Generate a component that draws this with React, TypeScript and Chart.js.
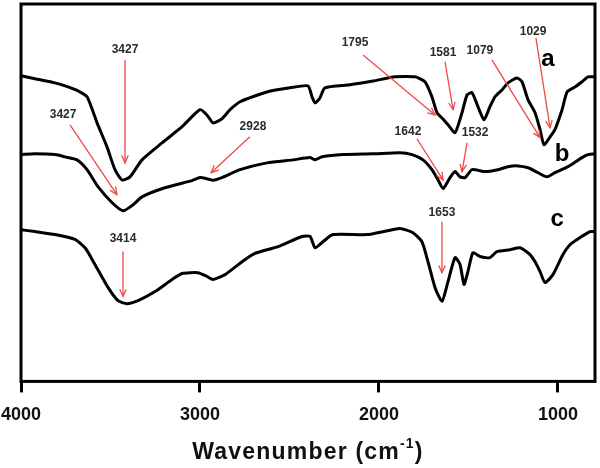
import React, { useEffect, useRef } from "react";
import { Chart, registerables } from "chart.js";

Chart.register(...registerables);

// Wavenumber (cm-1) and transmittance (arbitrary %) for each spectrum
const waveA = [4000,3922,3810,3754,3682,3631,3575,3520,3475,3436,3391,3324,3212,3100,3000,2961,2927,2877,2832,2776,2626,2497,2397,2374,2357,2330,2302,2162,2033,1910,1799,1743,1704,1676,1648,1614,1575,1536,1508,1480,1447,1413,1380,1352,1313,1279,1229,1201,1167,1128,1100,1078,1044,1017,977,949,905,866,832,793];
const transA = [81.0,80.2,79.1,78.3,77.0,75.4,68.5,62.2,56.1,53.4,54.2,58.7,63.2,67.5,72.0,70.6,68.5,69.6,72.0,74.1,76.7,77.8,78.3,75.4,73.8,75.1,77.8,78.6,79.6,80.7,80.7,79.4,75.4,71.2,69.8,68.0,65.9,71.2,75.9,76.5,72.8,69.3,72.8,75.4,77.2,79.1,80.4,79.4,74.6,71.2,66.7,62.7,64.8,66.7,72.0,76.7,78.0,79.4,80.7,80.7];

const waveB = [4000,3922,3810,3754,3687,3631,3570,3492,3430,3374,3324,3196,3045,3000,2961,2927,2877,2776,2626,2480,2385,2357,2318,2201,2033,1883,1815,1754,1704,1670,1642,1603,1575,1547,1519,1480,1408,1335,1279,1223,1167,1112,1061,1017,944,866,832,793];
const transB = [60.1,60.3,60.1,59.5,58.7,56.1,51.6,47.4,45.2,46.8,48.9,51.3,53.2,54.0,53.7,53.3,54.0,56.1,57.9,58.7,59.3,58.7,59.5,60.1,60.3,60.6,60.1,58.7,56.1,53.4,51.1,54.0,55.6,54.2,54.0,56.1,55.6,56.1,56.9,57.1,56.6,55.3,54.2,55.3,56.9,59.3,60.1,60.3];

const waveC = [4000,3922,3810,3698,3642,3587,3514,3458,3408,3346,3251,3156,3100,3011,2961,2927,2860,2765,2693,2564,2430,2385,2357,2313,2257,2067,1955,1883,1810,1760,1726,1687,1648,1614,1575,1547,1525,1503,1475,1436,1380,1341,1268,1212,1156,1128,1100,1072,1028,972,933,877,821,793];
const transC = [40.2,39.7,38.9,37.6,35.4,31.0,24.9,21.4,20.6,21.4,23.8,27.0,28.6,28.8,27.8,27.0,28.3,31.7,33.9,35.7,38.4,38.4,35.4,37.0,38.9,38.9,39.9,40.5,39.4,37.0,31.7,24.9,21.2,26.5,32.8,31.0,25.7,29.1,34.1,33.1,32.8,34.4,34.9,35.4,33.6,31.7,29.1,26.2,28.3,33.6,36.2,38.1,39.7,39.7];

const xTicks = [4000, 3000, 2000, 1000];
const xMin = 793;
const xMax = 4000;

// Peak annotations (data units): label position, arrow start, arrow tip
const peakLabels = ["3427", "3427", "2928", "1795", "1581", "1079", "1029", "1642", "1532", "1653", "3414"];
const labelWn = [3419, 3765, 2704, 2134, 1642, 1436, 1139, 1838, 1463, 1648, 3430];
const labelT = [87.8, 70.6, 67.5, 89.7, 87.0, 87.6, 92.6, 66.1, 65.9, 44.7, 37.8];
const fromWn = [3419, 3726, 2721, 2089, 1631, 1369, 1123, 1788, 1508, 1648, 3430];
const fromT = [85.2, 68.0, 64.8, 86.5, 84.7, 85.2, 91.0, 64.3, 63.2, 42.3, 34.4];
const tipWn = [3419, 3464, 2938, 1687, 1586, 1100, 1044, 1642, 1536, 1648, 3430];
const tipT = [57.9, 49.5, 55.3, 70.6, 72.0, 64.6, 67.2, 53.4, 55.6, 28.8, 22.5];

const curveNames = ["a", "b", "c"];
const curveNameWn = [1056, 977, 1005];
const curveNameT = [85.2, 60.1, 42.9];

const toPoints = (xs: number[], ys: number[]) => xs.map((x, i) => ({ x, y: ys[i] }));

const overlayPlugin = {
  id: "overlay",
  afterDatasetsDraw(chart: any) {
    const { ctx, chartArea: ca, scales } = chart;
    const xs = scales.x;
    const ys = scales.y;
    ctx.save();

    // frame
    ctx.strokeStyle = "#000";
    ctx.lineWidth = 3;
    ctx.strokeRect(ca.left, ca.top, ca.right - ca.left, ca.bottom - ca.top);

    // arrows
    ctx.strokeStyle = "#ef4848";
    ctx.lineWidth = 1.3;
    for (let i = 0; i < peakLabels.length; i++) {
      const x1 = xs.getPixelForValue(fromWn[i]);
      const y1 = ys.getPixelForValue(fromT[i]);
      const x2 = xs.getPixelForValue(tipWn[i]);
      const y2 = ys.getPixelForValue(tipT[i]);
      ctx.beginPath();
      ctx.moveTo(x1, y1);
      ctx.lineTo(x2, y2);
      ctx.stroke();
      const ang = Math.atan2(y2 - y1, x2 - x1);
      const len = 8;
      const spread = 0.42;
      ctx.beginPath();
      ctx.moveTo(x2 - len * Math.cos(ang - spread), y2 - len * Math.sin(ang - spread));
      ctx.lineTo(x2, y2);
      ctx.lineTo(x2 - len * Math.cos(ang + spread), y2 - len * Math.sin(ang + spread));
      ctx.stroke();
    }

    // peak labels
    ctx.fillStyle = "#2a2a2a";
    ctx.font = "bold 12px 'Liberation Sans', Arial, sans-serif";
    ctx.textAlign = "center";
    ctx.textBaseline = "middle";
    for (let i = 0; i < peakLabels.length; i++) {
      ctx.fillText(peakLabels[i], xs.getPixelForValue(labelWn[i]), ys.getPixelForValue(labelT[i]));
    }

    // curve names
    ctx.fillStyle = "#000";
    ctx.font = "bold 24px 'Liberation Sans', Arial, sans-serif";
    for (let i = 0; i < curveNames.length; i++) {
      ctx.fillText(curveNames[i], xs.getPixelForValue(curveNameWn[i]), ys.getPixelForValue(curveNameT[i]));
    }

    // axis title with superscript
    const cx = (ca.left + ca.right) / 2;
    const cy = ca.bottom + 71;
    const big = "bold 23px 'Liberation Sans', Arial, sans-serif";
    const small = "bold 14px 'Liberation Sans', Arial, sans-serif";
    const part1 = "Wavenumber (cm";
    const sup = "-1";
    const part3 = ")";
    (ctx as any).letterSpacing = "1.2px";
    ctx.font = big;
    const w1 = ctx.measureText(part1).width;
    const w3 = ctx.measureText(part3).width;
    ctx.font = small;
    const w2 = ctx.measureText(sup).width;
    const total = w1 + w2 + w3;
    let x = cx - total / 2;
    ctx.textAlign = "left";
    ctx.textBaseline = "middle";
    ctx.fillStyle = "#111";
    ctx.font = big;
    ctx.fillText(part1, x, cy);
    x += w1;
    ctx.font = small;
    ctx.fillText(sup, x, cy - 8);
    x += w2;
    ctx.font = big;
    ctx.fillText(part3, x, cy);
    (ctx as any).letterSpacing = "0px";

    ctx.restore();
  },
};

export default function App() {
  const ref = useRef<HTMLCanvasElement | null>(null);

  useEffect(() => {
    document.body.style.margin = "0";
    if (!ref.current) return;
    const lineStyle = {
      borderColor: "#000",
      borderWidth: 3,
      pointRadius: 0,
      tension: 0.2,
      fill: false,
    };
    const chart = new Chart(ref.current, {
      type: "line",
      data: {
        datasets: [
          { label: "a", data: toPoints(waveA, transA), ...lineStyle },
          { label: "b", data: toPoints(waveB, transB), ...lineStyle },
          { label: "c", data: toPoints(waveC, transC), ...lineStyle },
        ],
      },
      options: {
        animation: false,
        responsive: false,
        maintainAspectRatio: false,
        layout: { padding: { left: 21, right: 5, top: 4, bottom: 30 } },
        plugins: { legend: { display: false }, tooltip: { enabled: false } },
        scales: {
          x: {
            type: "linear",
            reverse: true,
            min: xMin,
            max: xMax,
            afterBuildTicks: (scale: any) => {
              scale.ticks = xTicks.map((v) => ({ value: v }));
            },
            afterFit: (scale: any) => {
              scale.paddingLeft = 0;
              scale.paddingRight = 0;
            },
            border: { display: false },
            grid: {
              display: true,
              drawOnChartArea: false,
              drawTicks: true,
              tickLength: 11,
              tickWidth: 3,
              tickColor: "#000",
            },
            ticks: {
              color: "#111",
              padding: 12,
              maxRotation: 0,
              autoSkip: false,
              font: { family: "'Liberation Sans', Arial, sans-serif", size: 18, weight: "bold" },
              callback: (v: any) => String(v),
            },
          },
          y: { display: false, min: 0, max: 100 },
        },
      },
      plugins: [overlayPlugin],
    } as any);
    return () => chart.destroy();
  }, []);

  return (
    <div style={{ width: 600, height: 468 }}>
      <canvas ref={ref} width={600} height={468} style={{ display: "block" }} />
    </div>
  );
}
